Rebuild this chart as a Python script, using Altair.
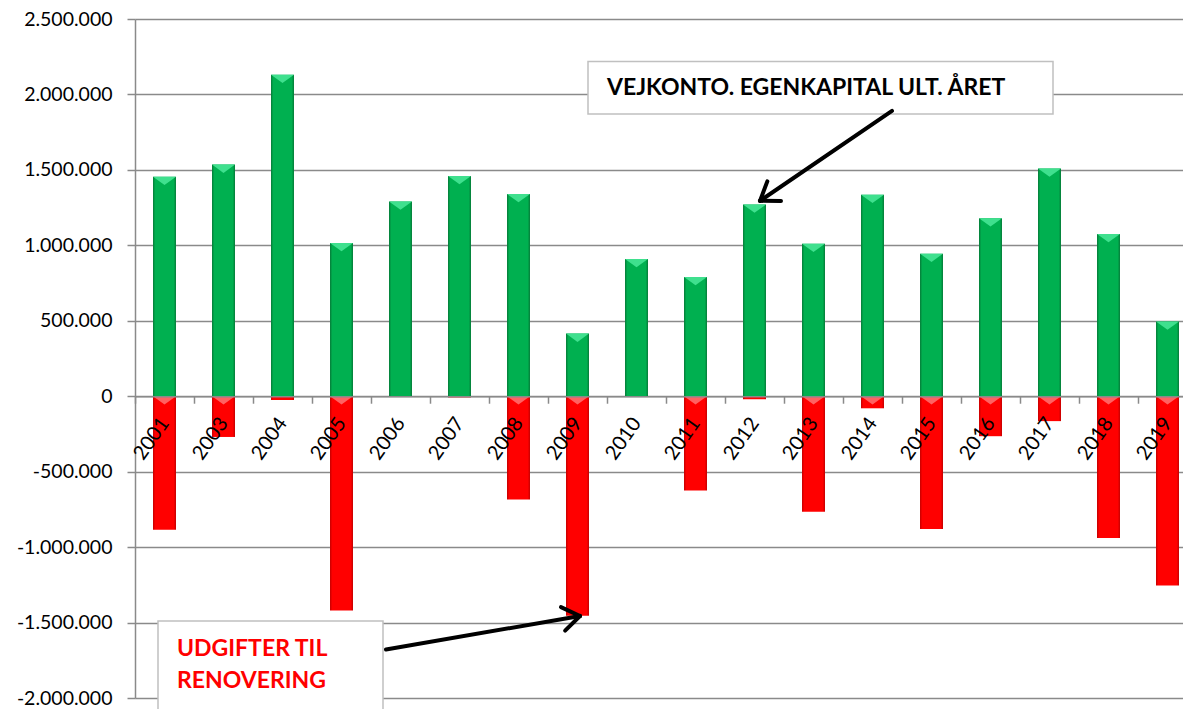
import math
import altair as alt
import pandas as pd

# ---------------- data ----------------
years = ["2001", "2003", "2004", "2005", "2006", "2007", "2008", "2009", "2010",
         "2011", "2012", "2013", "2014", "2015", "2016", "2017", "2018", "2019"]
egenkapital = [1455000, 1535000, 2130000, 1015000, 1290000, 1460000, 1340000, 415000, 910000,
               790000, 1270000, 1010000, 1335000, 945000, 1180000, 1510000, 1075000, 495000]
renovering = [-885000, -270000, -25000, -1420000, 0, -8000, -685000, -1455000, 0,
              -625000, -20000, -765000, -80000, -880000, -265000, -165000, -940000, -1255000]
y_ticks = [-2000000, -1500000, -1000000, -500000, 0, 500000, 1000000, 1500000, 2000000, 2500000]
label_top = "VEJKONTO. EGENKAPITAL ULT. ÅRET"
label_bottom = ["UDGIFTER TIL", "RENOVERING"]

df = pd.DataFrame({"year": years, "egenkapital": egenkapital, "renovering": renovering})
one = pd.DataFrame({"k": [0]})

# ---------------- layout ----------------
W, H = 1062, 679
PAD_L, PAD_T = 127, 11
Y_MIN, Y_MAX = y_ticks[0], y_ticks[-1]
zero_px = H * Y_MAX / (Y_MAX - Y_MIN)
FONT = "Lato"
GRID = "#8a8a8a"
BAR_W = 23

green_grad = alt.Gradient(
    gradient="linear", x1=0, x2=1, y1=0, y2=0,
    stops=[alt.GradientStop(color="#067a38", offset=0),
           alt.GradientStop(color="#00b050", offset=0.1),
           alt.GradientStop(color="#00b050", offset=0.9),
           alt.GradientStop(color="#067a38", offset=1)])
red_grad = alt.Gradient(
    gradient="linear", x1=0, x2=1, y1=0, y2=0,
    stops=[alt.GradientStop(color="#c40000", offset=0),
           alt.GradientStop(color="#ff0000", offset=0.1),
           alt.GradientStop(color="#ff0000", offset=0.9),
           alt.GradientStop(color="#c40000", offset=1)])

x_axis = alt.Axis(
    title=None, orient="bottom", offset=-(H - zero_px), labelAngle=-55,
    labelAlign="right", labelBaseline="middle", labelPadding=16,
    labelFont=FONT, labelFontSize=20, labelColor="black", labelOverlap=False,
    tickBand="extent", tickSize=7, tickColor=GRID, tickWidth=1.5,
    domainColor=GRID, domainWidth=1.5, grid=False, zindex=1)
y_axis = alt.Axis(
    title=None, values=y_ticks,
    labelExpr="(datum.value < 0 ? '-' : '') + replace(format(abs(datum.value), ','), regexp(',', 'g'), '.')",
    labelFont=FONT, labelFontSize=19.5, labelColor="black", labelPadding=15,
    tickSize=8, tickColor=GRID, tickWidth=1.5, domainColor=GRID, domainWidth=1.5,
    grid=True, gridColor=GRID, gridWidth=1.5)

x_scale = alt.Scale(paddingInner=0, paddingOuter=0)
y_scale = alt.Scale(domain=[Y_MIN, Y_MAX], nice=False)

xe = alt.X("year:N", sort=years, scale=x_scale, axis=x_axis)

green = alt.Chart(df).mark_bar(size=BAR_W, color=green_grad).encode(
    x=xe, y=alt.Y("egenkapital:Q", scale=y_scale, axis=y_axis))
red = alt.Chart(df).mark_bar(size=BAR_W, color=red_grad).encode(
    x=xe, y=alt.Y("renovering:Q", scale=y_scale, axis=y_axis))

tri = "M-1,0L1,0L0,0.72Z"
green_tri = alt.Chart(df).mark_point(shape=tri, filled=True, size=BAR_W * BAR_W,
                                     color="#3fe08e", opacity=1, strokeWidth=0).encode(
    x=xe, y=alt.Y("egenkapital:Q", scale=y_scale, axis=y_axis))
red_tri = alt.Chart(df).transform_filter("datum.renovering < -50000").mark_point(
    shape=tri, filled=True, size=BAR_W * BAR_W, color="#ff6262", opacity=1, strokeWidth=0).encode(
    x=xe, y=alt.Y(datum=0, scale=y_scale, axis=y_axis))

# annotation positions are given in the reference's page coordinates
# (plot origin at 135, 20 and plot height 687) and mapped onto this plot
OX = PAD_L + 8
REF_TOP, REF_H = 20, 687


def px(x):
    return x - OX


def py(y):
    return (y - REF_TOP) * H / REF_H


def box(x0, y0, x1, y1):
    return alt.Chart(one).mark_rect(fill="white", stroke="#c0c0c0", strokeWidth=1.5).encode(
        x=alt.value(px(x0)), x2=alt.value(px(x1)),
        y=alt.value(py(y0)), y2=alt.value(py(y1)))


def seg(x0, y0, x1, y1):
    return alt.Chart(one).mark_rule(color="black", strokeWidth=4, strokeCap="round").encode(
        x=alt.value(px(x0)), x2=alt.value(px(x1)),
        y=alt.value(py(y0)), y2=alt.value(py(y1)))


def arrow(xs, ys, xt, yt, head=21, ang=35):
    dx, dy = xs - xt, ys - yt
    n = math.hypot(dx, dy)
    ux, uy = dx / n, dy / n
    parts = [seg(xs, ys, xt, yt)]
    for a in (ang, -ang):
        r = math.radians(a)
        ax = ux * math.cos(r) - uy * math.sin(r)
        ay = ux * math.sin(r) + uy * math.cos(r)
        parts.append(seg(xt, yt, xt + head * ax, yt + head * ay))
    return parts


def text(s, x, y, color):
    return alt.Chart(one).mark_text(
        text=s, align="left", baseline="alphabetic", font=FONT, fontSize=23,
        fontWeight="bold", color=color).encode(x=alt.value(px(x)), y=alt.value(py(y)))


layers = [green, red, green_tri, red_tri,
          box(588, 63, 1053, 116), text(label_top, 607, 97, "black"),
          *arrow(892, 113, 760, 204),
          box(158, 629, 383, 760),
          text(label_bottom[0], 177, 664, "#ff0000"),
          text(label_bottom[1], 177, 697, "#ff0000"),
          *arrow(386, 658, 580, 624)]

# the plot runs past the right edge of the page, as in the reference
chart = alt.layer(*layers).properties(
    width=W, height=H,
    padding={"left": PAD_L, "top": PAD_T, "right": -14, "bottom": 11},
    autosize=alt.AutoSizeParams(type="none"),
    background="white",
).configure_view(stroke=None)

chart.save("out.html", embed_options={"renderer": "svg", "actions": False})
